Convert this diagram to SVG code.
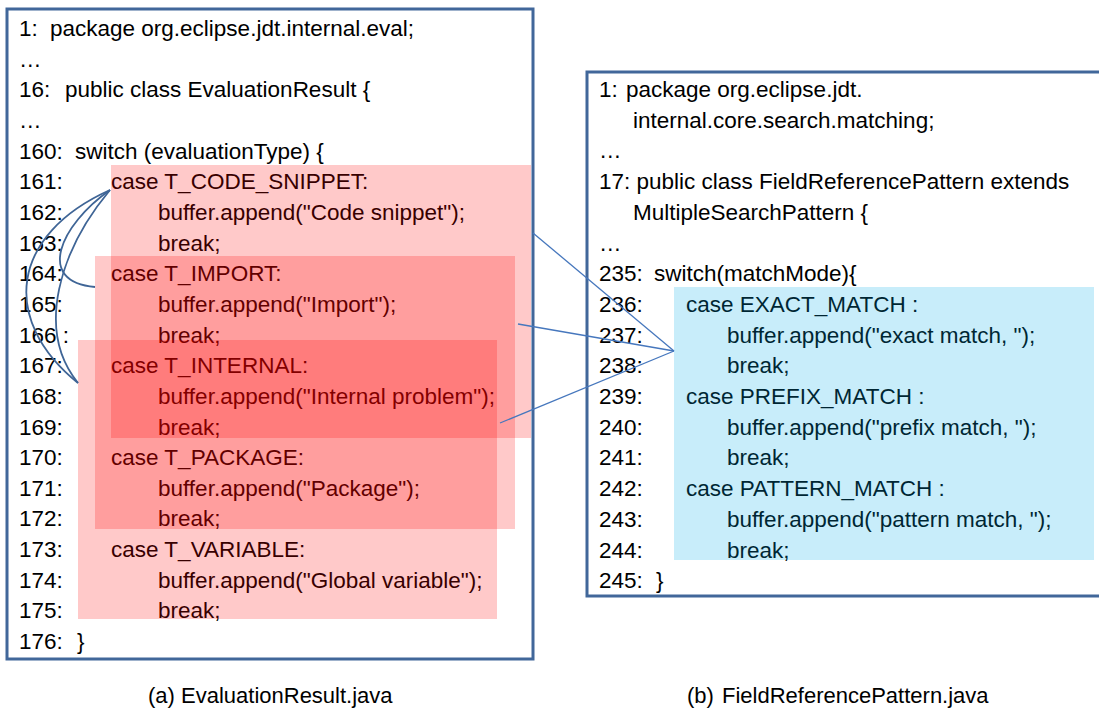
<svg xmlns="http://www.w3.org/2000/svg" width="1099" height="711" viewBox="0 0 1099 711">
  <style>
    text { font-family: "Liberation Sans", Arial, sans-serif; font-size: 22.5px; fill: #000; }
    .cap { font-size: 22px; }
    .frame { fill: #ffffff; stroke: #41679a; stroke-width: 3; }
    .hl-red { fill: #ff0000; fill-opacity: 0.21; }
    .hl-blue { fill: #00aae6; fill-opacity: 0.215; }
    .link { fill: none; stroke: #4677bd; stroke-width: 1.3; }
    .curve { fill: none; stroke: #3f6596; stroke-width: 1.8; }
  </style>

  <!-- (a) EvaluationResult.java -->
  <g id="evaluation-result">
    <rect class="frame" x="7" y="9" width="526" height="650"/>
    <g>
      <text x="19" y="36">1:</text><text x="50" y="36">package org.eclipse.jdt.internal.eval;</text>
      <text x="19" y="66.7">…</text>
      <text x="19" y="97.3">16:</text><text x="65" y="97.3">public class EvaluationResult {</text>
      <text x="19" y="128">…</text>
      <text x="19" y="158.6">160:</text><text x="75" y="158.6">switch (evaluationType) {</text>
      <text x="19" y="189.3">161:</text><text x="111" y="189.3">case T_CODE_SNIPPET:</text>
      <text x="19" y="220">162:</text><text x="158" y="220">buffer.append("Code snippet");</text>
      <text x="19" y="250.6">163:</text><text x="158" y="250.6">break;</text>
      <text x="19" y="281.2">164:</text><text x="111" y="281.2">case T_IMPORT:</text>
      <text x="19" y="311.9">165:</text><text x="158" y="311.9">buffer.append("Import");</text>
      <text x="19" y="342.5">166 :</text><text x="158" y="342.5">break;</text>
      <text x="19" y="373.2">167:</text><text x="111" y="373.2">case T_INTERNAL:</text>
      <text x="19" y="403.8">168:</text><text x="158" y="403.8">buffer.append("Internal problem");</text>
      <text x="19" y="434.5">169:</text><text x="158" y="434.5">break;</text>
      <text x="19" y="465.1">170:</text><text x="111" y="465.1">case T_PACKAGE:</text>
      <text x="19" y="495.8">171:</text><text x="158" y="495.8">buffer.append("Package");</text>
      <text x="19" y="526.4">172:</text><text x="158" y="526.4">break;</text>
      <text x="19" y="557">173:</text><text x="111" y="557">case T_VARIABLE:</text>
      <text x="19" y="587.7">174:</text><text x="158" y="587.7">buffer.append("Global variable");</text>
      <text x="19" y="618.3">175:</text><text x="158" y="618.3">break;</text>
      <text x="19" y="649">176:</text><text x="77" y="649">}</text>
    </g>
    <!-- overlapping highlighted regions -->
    <rect class="hl-red" x="111" y="165" width="420" height="273"/>
    <rect class="hl-red" x="95" y="256" width="420" height="273"/>
    <rect class="hl-red" x="78" y="340" width="419" height="279"/>
    <text class="cap" x="148" y="703">(a) EvaluationResult.java</text>
  </g>

  <!-- (b) FieldReferencePattern.java -->
  <g id="field-reference-pattern">
    <rect class="frame" x="587" y="72" width="520" height="524"/>
    <g>
      <text x="599" y="97">1:</text><text x="626" y="97">package org.eclipse.jdt.</text>
      <text x="633" y="127.7">internal.core.search.matching;</text>
      <text x="599" y="158.4">…</text>
      <text x="599" y="189.1">17: public class FieldReferencePattern extends</text>
      <text x="633" y="219.8">MultipleSearchPattern {</text>
      <text x="599" y="250.5">…</text>
      <text x="599" y="281.2">235:</text><text x="654" y="281.2">switch(matchMode){</text>
      <text x="599" y="311.9">236:</text><text x="686" y="311.9">case EXACT_MATCH :</text>
      <text x="599" y="342.6">237:</text><text x="727" y="342.6">buffer.append("exact match, ");</text>
      <text x="599" y="373.3">238:</text><text x="727" y="373.3">break;</text>
      <text x="599" y="404">239:</text><text x="686" y="404">case PREFIX_MATCH :</text>
      <text x="599" y="434.7">240:</text><text x="727" y="434.7">buffer.append("prefix match, ");</text>
      <text x="599" y="465.4">241:</text><text x="727" y="465.4">break;</text>
      <text x="599" y="496.1">242:</text><text x="686" y="496.1">case PATTERN_MATCH :</text>
      <text x="599" y="526.8">243:</text><text x="727" y="526.8">buffer.append("pattern match, ");</text>
      <text x="599" y="557.5">244:</text><text x="727" y="557.5">break;</text>
      <text x="599" y="588.2">245:</text><text x="656" y="588.2">}</text>
    </g>
    <rect class="hl-blue" x="674" y="287" width="420" height="273"/>
    <text class="cap" x="687" y="703">(b)</text><text class="cap" x="722" y="703">FieldReferencePattern.java</text>
  </g>

  <!-- connectors -->
  <g id="connectors">
    <path class="curve" d="M110,190 C60,225 35,282 95,287"/>
    <path class="curve" d="M110,190 C60,250 35,330 78,383"/>
    <path class="curve" d="M110,190 C10,235 0,320 78,383"/>
    <line class="link" x1="533" y1="233" x2="674" y2="351"/>
    <line class="link" x1="518" y1="324" x2="674" y2="351"/>
    <line class="link" x1="500" y1="423" x2="674" y2="351"/>
  </g>
</svg>
